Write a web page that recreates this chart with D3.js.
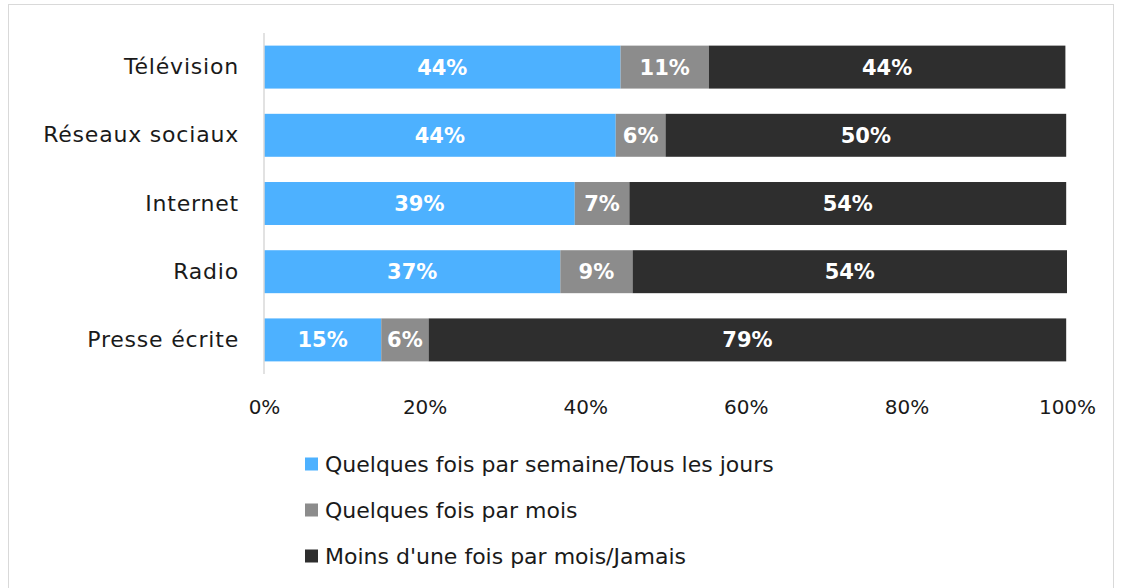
<html>
<head>
    <meta charset="utf-8">
    <script src="https://d3js.org/d3.v7.min.js"></script>
    <style>
        html,body{
            margin: 0px;
            padding: 0px;
            background-color: #ffffff;
        }
        text {
            font-family: "Century Gothic", "URW Gothic", "DejaVu Sans", sans-serif;
        }
    </style>
</head>
<body>
    <div id="chart"></div>
    <script>
        // data (percent)
        const categories = ["Télévision", "Réseaux sociaux", "Internet", "Radio", "Presse écrite"];
        const seriesNames = [
            "Quelques fois par semaine/Tous les jours",
            "Quelques fois par mois",
            "Moins d'une fois par mois/Jamais"
        ];
        const weekly  = [44.4, 43.8, 38.7, 36.9, 14.6];
        const monthly = [11.0, 6.2, 6.8, 9.0, 5.9];
        const never   = [44.4, 49.9, 54.4, 54.1, 79.4];
        const colors = ["#4db1ff", "#8c8c8c", "#2e2e2e"];
        const xTicks = [0, 20, 40, 60, 80, 100];

        const W = 1123, H = 588;
        const svg = d3.select("#chart").append("svg")
            .attr("width", W)
            .attr("height", H);

        // outer frame
        svg.append("rect")
            .attr("x", 8.5).attr("y", 4.5)
            .attr("width", 1105).attr("height", 600)
            .attr("fill", "none")
            .attr("stroke", "#d9d9d9")
            .attr("stroke-width", 1);

        const x = d3.scaleLinear().domain([0, 100]).range([264, 1067]);
        const y = d3.scaleBand().domain(categories).range([33, 374]).paddingInner(0.37).paddingOuter(0.185);

        const rows = categories.map((c, i) => ({cat: c, weekly: weekly[i], monthly: monthly[i], never: never[i]}));
        const stack = d3.stack().keys(["weekly", "monthly", "never"])(rows);

        // x axis labels
        svg.append("g")
            .attr("transform", "translate(0,411)")
            .call(d3.axisBottom(x).tickValues(xTicks).tickSize(0).tickFormat(d => d + "%"))
            .call(g => g.select(".domain").remove())
            .selectAll("text")
                .attr("font-size", 20)
                .attr("fill", "#1a1a1a")
                .attr("dy", "0");

        // category labels
        svg.append("g")
            .attr("transform", "translate(239,0)")
            .call(d3.axisLeft(y).tickSize(0).tickPadding(0))
            .call(g => g.select(".domain").remove())
            .selectAll("text")
                .attr("font-size", 22)
                .attr("letter-spacing", 0.8)
                .attr("fill", "#1a1a1a");

        // bars
        const layers = svg.append("g").selectAll("g")
            .data(stack)
            .enter().append("g")
                .attr("fill", (d, i) => colors[i]);

        layers.selectAll("rect")
            .data(d => d)
            .enter().append("rect")
                .attr("x", d => x(d[0]))
                .attr("y", d => y(d.data.cat))
                .attr("width", d => x(d[1]) - x(d[0]))
                .attr("height", y.bandwidth());

        layers.selectAll("text")
            .data(d => d)
            .enter().append("text")
                .attr("x", d => (x(d[0]) + x(d[1])) / 2)
                .attr("y", d => y(d.data.cat) + y.bandwidth() / 2)
                .attr("dy", "0.36em")
                .attr("text-anchor", "middle")
                .attr("font-size", 21)
                .attr("font-weight", "bold")
                .attr("fill", "white")
                .text(d => Math.round(d[1] - d[0]) + "%");

        // vertical axis line
        svg.append("line")
            .attr("x1", x(0)).attr("x2", x(0))
            .attr("y1", 33).attr("y2", 374)
            .attr("stroke", "#d9d9d9")
            .attr("stroke-width", 1.5);

        // legend
        const legend = svg.append("g").selectAll("g")
            .data(seriesNames)
            .enter().append("g")
                .attr("transform", (d, i) => "translate(305," + (464 + i * 46) + ")");
        legend.append("rect")
            .attr("x", 0).attr("y", -6.5)
            .attr("width", 13).attr("height", 13)
            .attr("fill", (d, i) => colors[i]);
        legend.append("text")
            .attr("x", 20)
            .attr("dy", "0.35em")
            .attr("font-size", 22)
            .attr("fill", "#1a1a1a")
            .text(d => d);
    </script>
</body>
</html>
